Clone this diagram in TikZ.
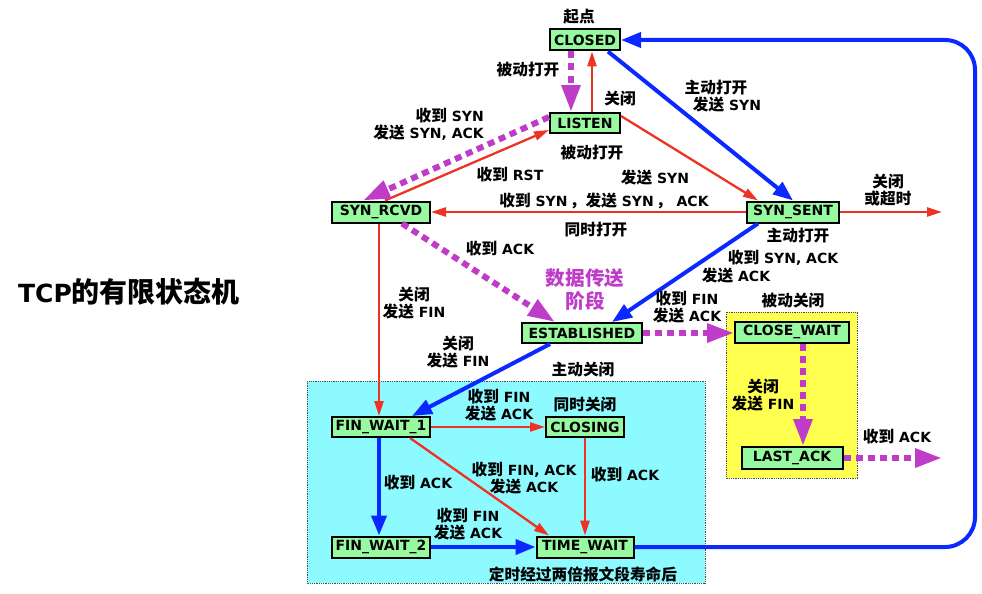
\documentclass[tikz,border=0pt]{standalone}
\usepackage{fontspec}
\usetikzlibrary{arrows.meta}
\setmainfont{DejaVu Sans}
\newfontfamily\latinfont{DejaVu Sans}
\newfontfamily\cjkfont{Noto Sans CJK SC}[Scale=1.12]
\XeTeXinterchartokenstate=1
\count255="4E00
\loop
  \XeTeXcharclass\count255=10
  \advance\count255 by 1
\ifnum\count255<"A000 \repeat
\XeTeXcharclass"FF0C=10
\XeTeXinterchartoks 0 10 = {\cjkfont}
\XeTeXinterchartoks 4095 10 = {\cjkfont}
\XeTeXinterchartoks 10 0 = {\latinfont}
\XeTeXinterchartoks 10 4095 = {\latinfont}
\definecolor{cred}{RGB}{238,50,36}
\definecolor{cblue}{RGB}{10,40,255}
\definecolor{cpurple}{RGB}{190,60,200}
\definecolor{cgreen}{RGB}{152,250,160}
\definecolor{ccyan}{RGB}{140,250,255}
\definecolor{cyellow}{RGB}{255,255,80}
\tikzset{
  state/.style={draw=black, line width=2pt, fill=cgreen, inner sep=0pt,
    font=\fontsize{14}{16}\selectfont\bfseries},
  lbl/.style={inner sep=0pt, align=center, font=\fontsize{14}{17}\selectfont\bfseries},
  redline/.style={draw=cred, line width=2.3pt, -{Triangle[length=15pt,width=9pt]}},
  blueline/.style={draw=cblue, line width=4pt, -{Triangle[length=20pt,width=15pt]}},
  purpleline/.style={draw=cpurple, line width=6pt, dash pattern=on 7pt off 5pt,
    -{Triangle[length=27pt,width=18pt]}},
  region/.style={draw=black!70, line width=0.8pt, densely dotted}
}
\begin{document}
\begin{tikzpicture}[x=1pt,y=-1pt]
\useasboundingbox (0,0) rectangle (982,594);
% regions
\fill[ccyan] (307,381) rectangle (705,583);
\draw[region] (307,381) rectangle (705,583);
\fill[cyellow] (726,312) rectangle (857,478);
\draw[region] (726,312) rectangle (857,478);
% title
\node[inner sep=0pt, font=\fontsize{25}{28}\selectfont\bfseries] (title) at (129,292) {TCP的有限状态机};
% states
\node[state, minimum width=70pt, minimum height=21pt] (CLOSED) at (585,40) {CLOSED};
\node[state, minimum width=70pt, minimum height=20pt] (LISTEN) at (585,123) {LISTEN};
\node[state, minimum width=98pt, minimum height=21pt] (SYNRCVD) at (381,212) {SYN\_RCVD};
\node[state, minimum width=92pt, minimum height=21pt] (SYNSENT) at (793,212) {SYN\_SENT};
\node[state, minimum width=120pt, minimum height=20pt] (EST) at (582,333) {ESTABLISHED};
\node[state, minimum width=114pt, minimum height=21pt] (CW) at (792,332) {CLOSE\_WAIT};
\node[state, minimum width=101pt, minimum height=22pt] (LA) at (792,458) {LAST\_ACK};
\node[state, minimum width=98pt, minimum height=20pt] (FW1) at (381,427) {FIN\_WAIT\_1};
\node[state, minimum width=78pt, minimum height=20pt] (CLOSING) at (585,427) {CLOSING};
\node[state, minimum width=98pt, minimum height=21pt] (FW2) at (381,547) {FIN\_WAIT\_2};
\node[state, minimum width=97pt, minimum height=21pt] (TW) at (585,547) {TIME\_WAIT};
\coordinate (out1) at (942,212);
\coordinate (out2) at (942,458);
% edges
\draw[purpleline] ([xshift=-14pt]CLOSED.south) -- ([xshift=-14pt]LISTEN.north);
\draw[redline] ([xshift=7pt]LISTEN.north) -- ([xshift=7pt]CLOSED.south);
\draw[blueline] ([xshift=-13pt]CLOSED.south east) -- (SYNSENT.north);
\draw[blueline, rounded corners=30pt] (TW.east) -- (975,547) -- (975,40) -- (CLOSED.east);
\draw[redline] ([yshift=7pt]LISTEN.east) -- ([xshift=-35pt]SYNSENT.north);
\draw[redline] (SYNSENT.west) -- (SYNRCVD.east);
\draw[redline] ([xshift=4pt]SYNRCVD.north) -- ([yshift=-7pt]LISTEN.west);
\draw[purpleline] ([yshift=6pt]LISTEN.west) -- ([xshift=-18pt]SYNRCVD.north);
\draw[blueline] ([xshift=-35pt]SYNSENT.south) -- ([xshift=30pt]EST.north);
\draw[redline] (SYNSENT.east) -- (out1);
\draw[purpleline] ([xshift=21pt]SYNRCVD.south) -- ([xshift=-27pt]EST.north);
\draw[redline] ([xshift=-2pt]SYNRCVD.south) -- ([xshift=-2pt]FW1.north);
\draw[blueline] ([xshift=-32pt]EST.south) -- ([xshift=31pt]FW1.north);
\draw[purpleline] (EST.east) -- (EST.east -| CW.west);
\draw[purpleline] ([xshift=11pt]CW.south) -- ([xshift=11pt]LA.north);
\draw[purpleline] (LA.east) -- (out2);
\draw[redline] (FW1.east) -- (CLOSING.west);
\draw[redline] ([xshift=29pt]FW1.south) -- ([xshift=-36pt]TW.north);
\draw[redline] (CLOSING.south) -- (TW.north);
\draw[blueline] ([xshift=-2pt]FW1.south) -- ([xshift=-2pt]FW2.north);
\draw[blueline] (FW2.east) -- (TW.west);
% labels
\node[lbl] (l0) at (579,17) {起点};
\node[lbl] (l1) at (528,70) {被动打开};
\node[lbl] (l2) at (620,99) {关闭};
\node[lbl] (l3) at (721,96) {主动打开\hspace*{10pt}\\\hspace*{12pt}发送 SYN};
\node[lbl, align=right, anchor=east] (l4) at (484,124) {收到 SYN\\发送 SYN, ACK};
\node[lbl] (l5) at (592,153) {被动打开};
\node[lbl] (l6) at (510,175) {收到 RST};
\node[lbl] (l7) at (655,178) {发送 SYN};
\node[lbl] (l8) at (604,201) {收到 SYN\,，发送 SYN\,，~ACK};
\node[lbl] (l9) at (596,230) {同时打开};
\node[lbl] (l10) at (888,190) {关闭\\或超时};
\node[lbl] (l11) at (798,236) {主动打开};
\node[lbl] (l12) at (783,258) {收到 SYN, ACK};
\node[lbl] (l13) at (736,276) {发送 ACK};
\node[lbl] (l14) at (500,249) {收到 ACK};
\node[lbl, text=cpurple, font=\fontsize{17.5}{23}\selectfont\bfseries] (l15) at (585,290) {数据传送\\阶段};
\node[lbl] (l16) at (414,303) {关闭\\发送 FIN};
\node[lbl] (l17) at (687,307) {收到 FIN\\发送 ACK};
\node[lbl] (l18) at (793,301) {被动关闭};
\node[lbl] (l19) at (458,352) {关闭\\发送 FIN};
\node[lbl] (l20) at (583,369) {主动关闭};
\node[lbl] (l21) at (763,395) {关闭\\发送 FIN};
\node[lbl] (l22) at (897,437) {收到 ACK};
\node[lbl] (l23) at (499,405) {收到 FIN\\发送 ACK};
\node[lbl] (l24) at (585,405) {同时关闭};
\node[lbl] (l25) at (524,478) {收到 FIN, ACK\\发送 ACK};
\node[lbl] (l26) at (625,475) {收到 ACK};
\node[lbl] (l27) at (418,483) {收到 ACK};
\node[lbl] (l28) at (468,524) {收到 FIN\\发送 ACK};
\node[lbl] (l29) at (583,574) {定时经过两倍报文段寿命后};
\end{tikzpicture}
\end{document}
